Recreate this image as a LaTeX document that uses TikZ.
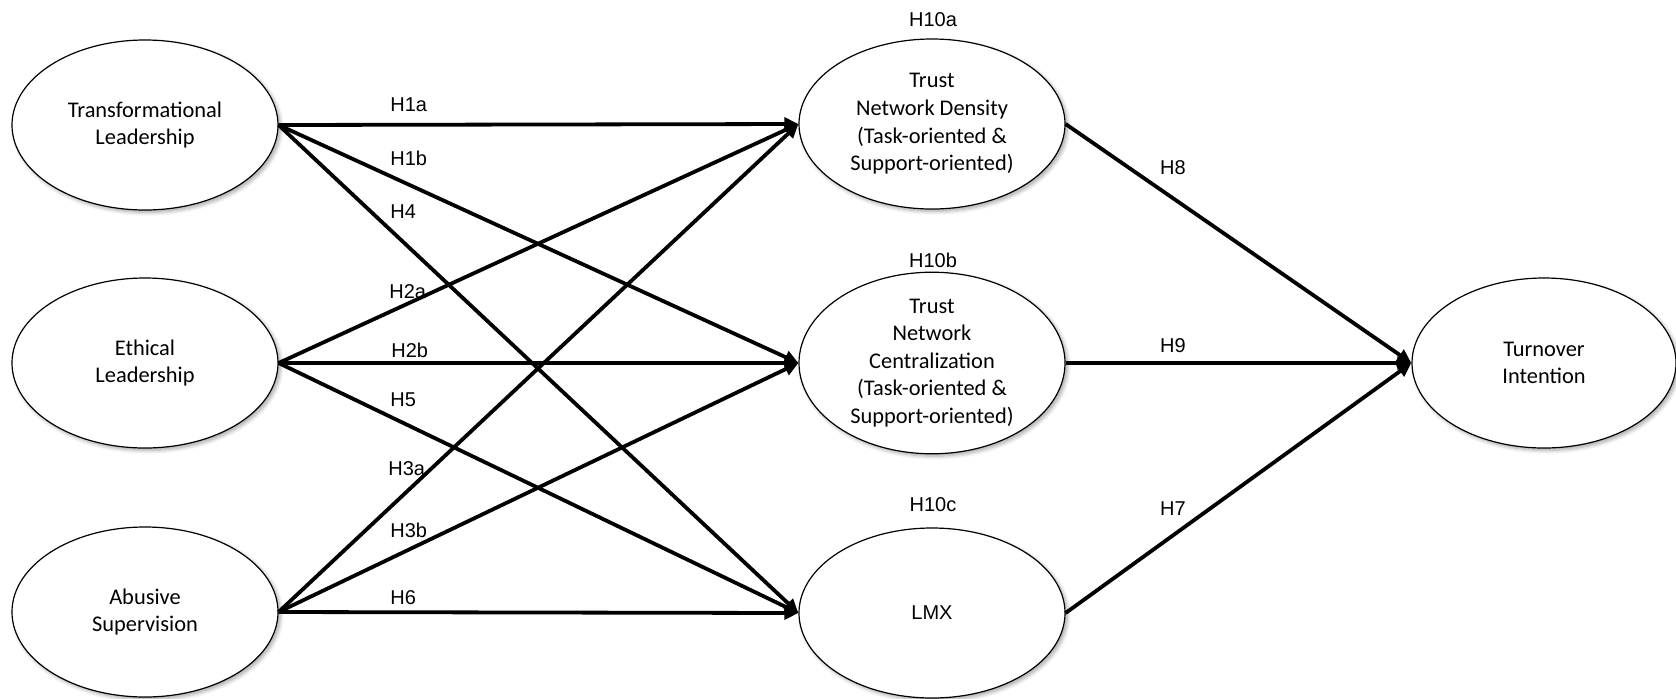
\documentclass[tikz,border=0pt]{standalone}
\usepackage{fontspec}
\setmainfont{Carlito}
\newfontfamily\arialf{Liberation Sans}
\usetikzlibrary{shapes.geometric,arrows.meta,shadows.blur}
\begin{document}
\begin{tikzpicture}[x=0.5pt,y=-0.5pt,
  construct/.style={ellipse, draw=black, line width=0.6pt, fill=white,
    minimum width=133pt, minimum height=85pt, inner sep=0pt, align=center,
    font=\fontsize{11.2}{13.8}\selectfont,
    blur shadow={shadow xshift=1.2pt, shadow yshift=-1.2pt, shadow blur steps=6, shadow opacity=35}},
  path/.style={line width=1.9pt, -{Triangle[length=7pt,width=6.5pt]}},
  hlab/.style={font=\arialf\fontsize{10}{12}\selectfont, inner sep=0pt},
  hleft/.style={hlab, anchor=west}]
\useasboundingbox (0,0) rectangle (1676,698);
% left constructs
\node[construct] (T) at (145,125) {Transformational\\Leadership};
\node[construct] (E) at (145,363) {Ethical\\Leadership};
\node[construct] (A) at (145,612) {Abusive\\Supervision};
% middle constructs
\node[construct] (D) at (932,124) {Trust\\Network Density\\(Task-oriented \&\\Support-oriented)};
\node[construct] (C) at (932,363) {Trust\\Network\\Centralization\\(Task-oriented \&\\Support-oriented)};
\node[construct, font=\arialf\fontsize{10}{12}\selectfont] (L) at (932,613) {LMX};
% outcome
\node[construct, minimum width=132pt] (O) at (1544,363) {Turnover\\Intention};
% connectors
\draw[path] (T.east) -- (D.west);
\draw[path] (T.east) -- (C.west);
\draw[path] (T.east) -- (L.west);
\draw[path] (E.east) -- (D.west);
\draw[path] (E.east) -- (C.west);
\draw[path] (E.east) -- (L.west);
\draw[path] (A.east) -- (D.west);
\draw[path] (A.east) -- (C.west);
\draw[path] (A.east) -- (L.west);
\draw[path] (D.east) -- (O.west);
\draw[path] (C.east) -- (O.west);
\draw[path] (L.east) -- (O.west);
% labels
\node[hleft] (h1a) at (390,105) {H1a};
\node[hleft] (h1b) at (390,158) {H1b};
\node[hleft] (h4) at (390,212) {H4};
\node[hleft] (h2a) at (389,292) {H2a};
\node[hleft] (h2b) at (391,350) {H2b};
\node[hleft] (h5) at (390,400) {H5};
\node[hleft] (h3a) at (388,469) {H3a};
\node[hleft] (h3b) at (390,530) {H3b};
\node[hleft] (h6) at (390,598) {H6};
\node[hlab] (h8) at (1173,168) {H8};
\node[hlab] (h9) at (1173,346) {H9};
\node[hlab] (h7) at (1173,509) {H7};
\node[hlab] (h10a) at (933,20) {H10a};
\node[hlab] (h10b) at (933,260) {H10b};
\node[hlab] (h10c) at (933,505) {H10c};
\end{tikzpicture}
\end{document}
